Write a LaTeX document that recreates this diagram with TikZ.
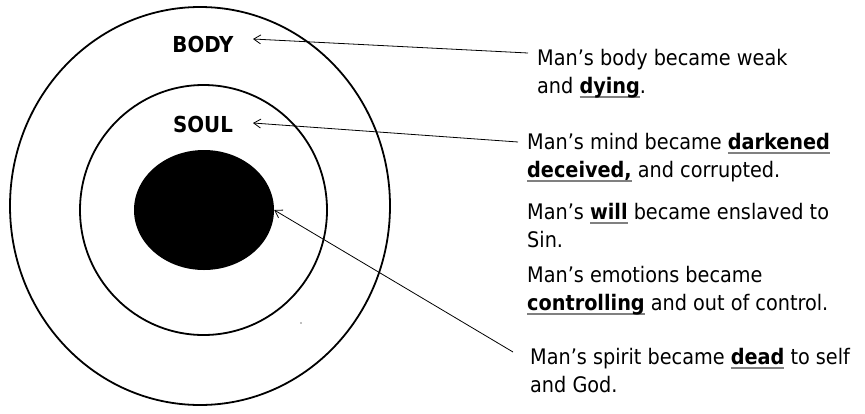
\documentclass[tikz,border=0pt]{standalone}
\usepackage{fontspec}
\setmainfont{DejaVu Sans Condensed}
\usetikzlibrary{arrows.meta, shapes.geometric}
% gray underline for the key words
\newsavebox\keybox
\newcommand\keyword[1]{\sbox\keybox{\textbf{#1}}\rlap{\textcolor{gray}{\rule[-0.2em]{\wd\keybox}{1.3pt}}}\usebox\keybox}
\begin{document}
\begin{tikzpicture}[x=1pt, y=-1pt, >={Straight Barb[length=7pt,width=9pt]},
	ring/.style={line width=1.8pt},
	label/.style={font=\fontsize{22}{22}\selectfont\bfseries, inner sep=0pt},
	note/.style={anchor=north west, align=left, inner sep=0pt,
		font=\fontsize{21.4}{28}\selectfont}]
	\useasboundingbox (0,0) rectangle (865,413);
	% the three parts of man
	\draw[ring] (200,206) ellipse [x radius=190, y radius=199];
	\draw[ring] (203.5,210) ellipse [x radius=123.5, y radius=125];
	\node[ellipse, fill=black, minimum width=140pt, minimum height=120pt, inner sep=0pt] (spirit) at (204,210) {};
	\fill[gray] (301,323) circle (0.8pt);
	\node[label] (body) at (203,44) {BODY};
	\node[label] (soul) at (203,124) {SOUL};
	% notes
	\node[note] (t1) at (537,49) {Man’s body became weak\\and \keyword{dying}.};
	\node[note] (t2) at (527,133) {Man’s mind became \keyword{darkened}\\\keyword{deceived,} and corrupted.};
	\node[note] (t3) at (527,203) {Man’s \keyword{will} became enslaved to\\Sin.};
	\node[note] (t4) at (527,266) {Man’s emotions became\\\keyword{controlling} and out of control.};
	\node[note] (t5) at (530,348) {Man’s spirit became \keyword{dead} to self\\and God.};
	% arrows
	\coordinate (b1) at (528,53);
	\coordinate (b2) at (253,39);
	\coordinate (s1) at (518,142);
	\coordinate (s2) at (253,123);
	\coordinate (p1) at (513,352);
	\draw[->, line width=0.8pt] (b1) -- (b2);
	\draw[->, line width=0.8pt] (s1) -- (s2);
	\draw[->, line width=0.8pt] (p1) -- (spirit.east);
\end{tikzpicture}
\end{document}
